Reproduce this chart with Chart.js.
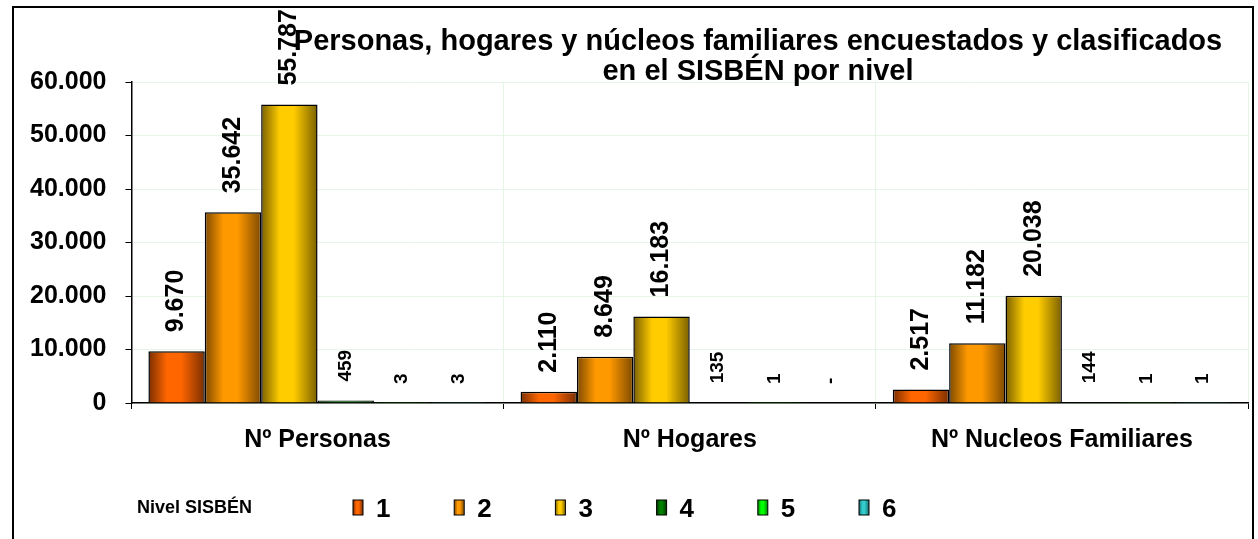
<!DOCTYPE html>
<html>
<head>
<meta charset="utf-8">
<script src="https://cdn.jsdelivr.net/npm/chart.js@4.4.1/dist/chart.umd.min.js"></script>
<style>
  html, body { margin: 0; padding: 0; background: #fff; }
  #wrap { position: relative; width: 1258px; height: 539px; }
</style>
</head>
<body>
<div id="wrap">
  <canvas id="sisbenChart" width="1258" height="539"></canvas>
</div>
<script>
// datos
const categories = ["Nº Personas", "Nº Hogares", "Nº Nucleos Familiares"];
const niveles = ["1", "2", "3", "4", "5", "6"];
const nivel1 = [9670, 2110, 2517];
const nivel2 = [35642, 8649, 11182];
const nivel3 = [55787, 16183, 20038];
const nivel4 = [459, 135, 144];
const nivel5 = [3, 1, 1];
const nivel6 = [3, 0, 1];
const yTicks = [0, 10000, 20000, 30000, 40000, 50000, 60000];

const titleLines = [
  "Personas, hogares y núcleos familiares encuestados y clasificados",
  "en el SISBÉN por nivel",
];
const legendTitle = "Nivel SISBÉN";

// colores: centro brillante, bordes oscuros (efecto cilindro de Excel)
const colors = {
  center: ["#FF6600", "#FF9900", "#FFCC00", "#008000", "#00FF00", "#33CCCC"],
  edge: ["#7A2E00", "#7F4A00", "#7A6000", "#003300", "#008000", "#1A6A6A"],
  grid: "#E6F6E6",
};

const FONT = "Arial, 'Liberation Sans', sans-serif";

const fmt = (v) => (v === 0 ? "-" : String(v).replace(/\B(?=(\d{3})+(?!\d))/g, "."));

function barGradient(ctx, x0, x1, i) {
  const g = ctx.createLinearGradient(x0, 0, x1, 0);
  g.addColorStop(0, colors.edge[i]);
  g.addColorStop(0.33, colors.center[i]);
  g.addColorStop(0.58, colors.center[i]);
  g.addColorStop(1, colors.edge[i]);
  return g;
}

const series = [nivel1, nivel2, nivel3, nivel4, nivel5, nivel6];

const data = {
  labels: categories,
  datasets: series.map((values, i) => ({
    label: niveles[i],
    data: values,
    backgroundColor: () => colors.center[i],
    borderColor: "#000",
    borderWidth: 1.5,
    barPercentage: 1,
    categoryPercentage: 0.909,
  })),
};

const framePlugin = {
  id: "frame",
  beforeDraw(chart) {
    const ctx = chart.ctx;
    ctx.save();
    ctx.fillStyle = "#fff";
    ctx.fillRect(0, 0, chart.width, chart.height);
    ctx.strokeStyle = "#000";
    ctx.lineWidth = 2;
    ctx.strokeRect(13, 7, 1240, 545);
    ctx.restore();
  },
};

const gradientPlugin = {
  id: "gradients",
  beforeDatasetsDraw(chart) {
    const ctx = chart.ctx;
    chart.data.datasets.forEach((ds, i) => {
      chart.getDatasetMeta(i).data.forEach((el) => {
        const x0 = el.x - el.width / 2;
        el.options.backgroundColor = barGradient(ctx, x0, x0 + el.width, i);
      });
    });
  },
};

const labelsPlugin = {
  id: "valueLabels",
  afterDatasetsDraw(chart) {
    const ctx = chart.ctx;
    ctx.save();
    ctx.fillStyle = "#000";
    chart.data.datasets.forEach((ds, i) => {
      chart.getDatasetMeta(i).data.forEach((el, j) => {
        const v = ds.data[j];
        const size = v >= 1000 ? 25 : 19;
        ctx.font = "bold " + size + "px " + FONT;
        ctx.save();
        ctx.translate(el.x, el.y - 19);
        ctx.rotate(-Math.PI / 2);
        ctx.textAlign = "left";
        ctx.textBaseline = "middle";
        ctx.fillText(fmt(v), 0, 0);
        ctx.restore();
      });
    });
    ctx.restore();
  },
};

const titleLegendPlugin = {
  id: "titleLegend",
  afterDraw(chart) {
    const ctx = chart.ctx;
    ctx.save();
    ctx.fillStyle = "#000";
    ctx.textAlign = "center";
    ctx.textBaseline = "alphabetic";
    ctx.font = "bold 29px " + FONT;
    ctx.fillText(titleLines[0], 758, 50);
    ctx.fillText(titleLines[1], 758, 80);

    // leyenda
    ctx.textAlign = "left";
    ctx.font = "bold 18px " + FONT;
    ctx.fillText(legendTitle, 137, 513);
    ctx.font = "bold 26px " + FONT;
    niveles.forEach((n, i) => {
      const bx = 353 + i * 101.2;
      ctx.fillStyle = barGradient(ctx, bx, bx + 10, i);
      ctx.fillRect(bx, 500, 10, 15);
      ctx.strokeStyle = "#000";
      ctx.lineWidth = 1;
      ctx.strokeRect(bx, 500, 10, 15);
      ctx.fillStyle = "#000";
      ctx.fillText(n, bx + 23, 517);
    });
    ctx.restore();
  },
};

const config = {
  type: "bar",
  data: data,
  options: {
    responsive: false,
    animation: false,
    layout: {
      padding: { left: 11, right: 10, top: 82, bottom: 68 },
    },
    plugins: {
      legend: { display: false },
      title: { display: false },
      tooltip: { enabled: false },
    },
    scales: {
      x: {
        grid: {
          color: colors.grid,
          offset: true,
          tickColor: "#000",
          tickLength: 6,
        },
        border: { color: "#000", width: 1.5 },
        ticks: {
          color: "#000",
          padding: 16,
          font: { family: FONT, size: 25, weight: "bold" },
        },
      },
      y: {
        min: yTicks[0],
        max: yTicks[yTicks.length - 1],
        afterBuildTicks: (scale) => {
          scale.ticks = yTicks.map((v) => ({ value: v }));
        },
        grid: {
          color: colors.grid,
          tickColor: "#000",
          tickLength: 6,
        },
        border: { color: "#000", width: 1.5 },
        ticks: {
          color: "#000",
          padding: 19,
          font: { family: FONT, size: 25, weight: "bold" },
          callback: (v) => fmt(v) === "-" ? "0" : fmt(v),
        },
      },
    },
  },
  plugins: [framePlugin, gradientPlugin, labelsPlugin, titleLegendPlugin],
};

new Chart(document.getElementById("sisbenChart"), config);
</script>
</body>
</html>
